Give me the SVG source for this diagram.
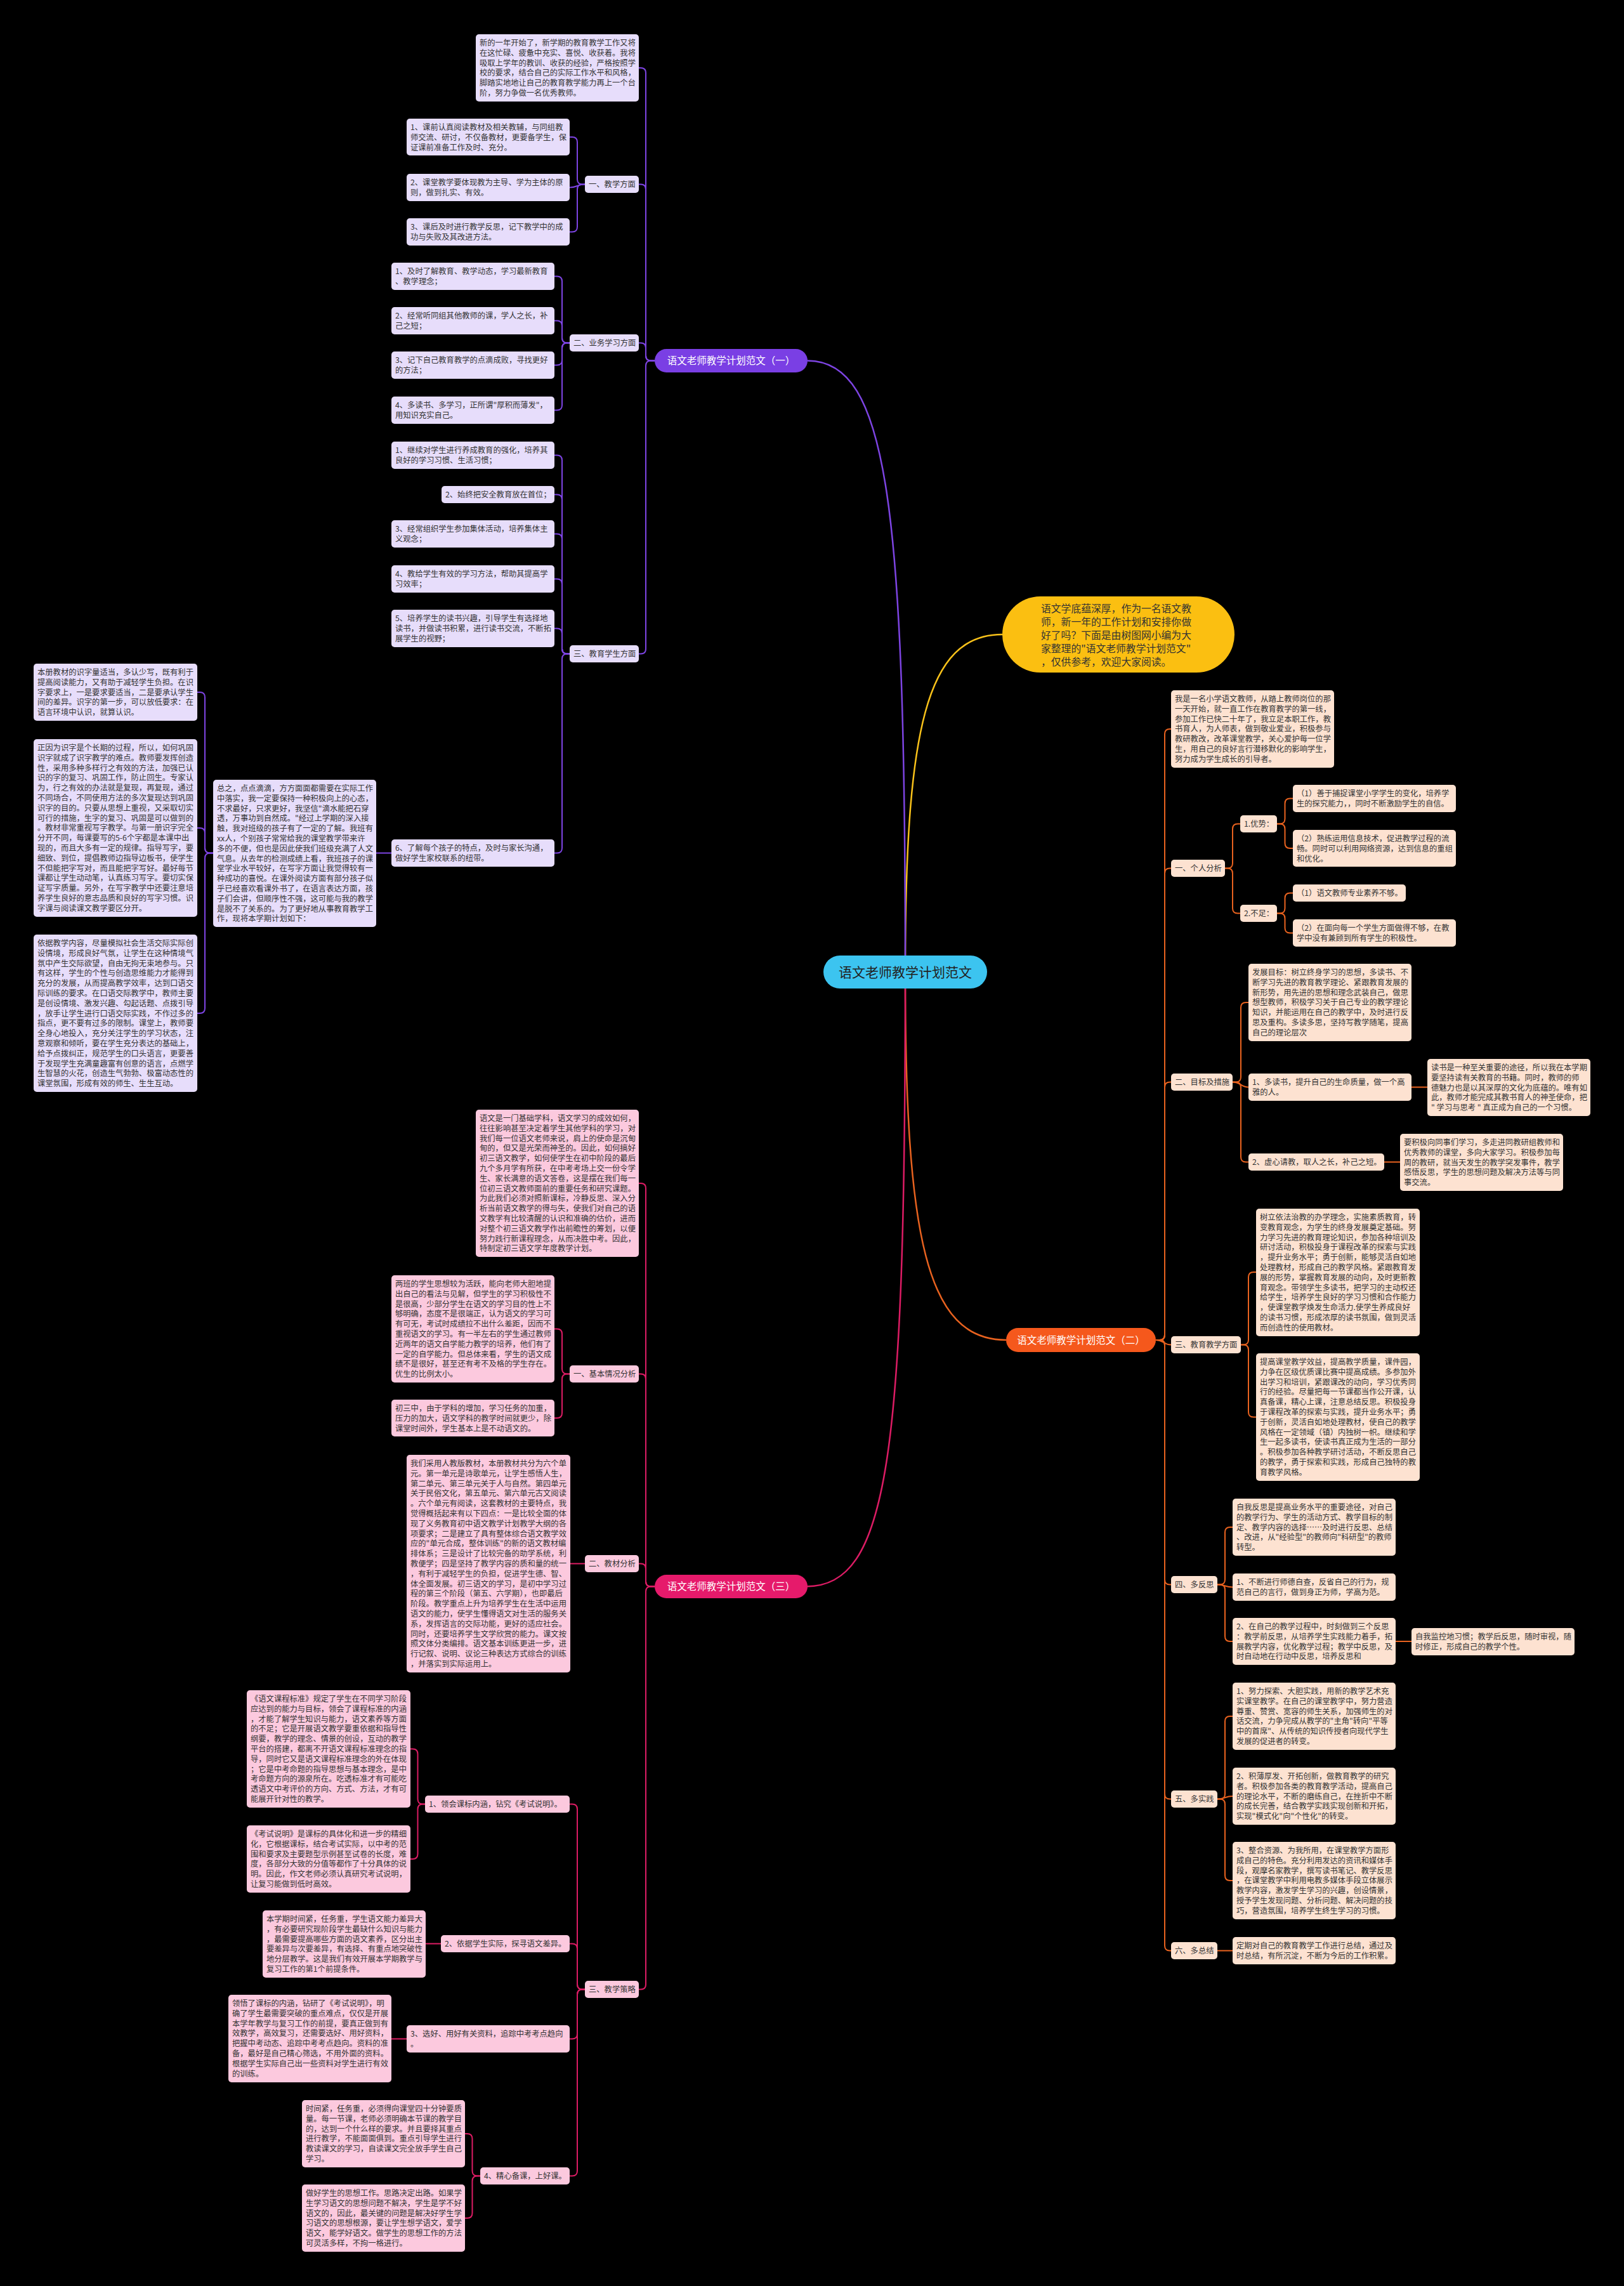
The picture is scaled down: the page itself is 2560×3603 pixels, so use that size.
<svg xmlns="http://www.w3.org/2000/svg" width="2560" height="3603" viewBox="0 0 2560 3603">
<style>
text{font-family:"Noto Sans CJK SC","Noto Sans",sans-serif;}
.t{font-size:12.3px;fill:#333;}
.h{font-size:15.5px;fill:#fff;text-anchor:middle;}
.np{fill:#e7ddfb}
.no{fill:#fde2d1}
.nk{fill:#fcc9de}
.lp{fill:none;stroke:#7d44e2;stroke-width:2}
.lo{fill:none;stroke:#e8621f;stroke-width:2}
.lk{fill:none;stroke:#dc1c64;stroke-width:2}
</style>
<rect x="0" y="0" width="2560" height="3603" fill="#000"/>
<g id="connectors">
<path d="M1427,1532 C1427,1150 1460,1000 1580,1000" fill="none" stroke="#f9c21a" stroke-width="2.5"/>
<path d="M1427,1532 C1427,800 1400,568.5 1273,568.5" fill="none" stroke="#7d44e2" stroke-width="2.5"/>
<path d="M1427,1532 C1427,1950 1460,2112 1586,2112" fill="none" stroke="#e8621f" stroke-width="2.5"/>
<path d="M1427,1532 C1427,2300 1400,2500.5 1271,2500.5" fill="none" stroke="#dc1c64" stroke-width="2.5"/>
<g class="lp">
<path d="M1032,568.5 H1026 Q1018,568.5 1018,560.5 V115 Q1018,107 1010,107 H1007"/>
<path d="M1032,568.5 H1026 Q1018,568.5 1018,560.5 V298.5 Q1018,290.5 1010,290.5 H1007"/>
<path d="M1032,568.5 H1026 Q1018,568.5 1018,560.5 V548.5 Q1018,540.5 1010,540.5 H1007"/>
<path d="M1032,568.5 H1026 Q1018,568.5 1018,576.5 V1022.5 Q1018,1030.5 1010,1030.5 H1007"/>
<path d="M922,290.5 H918 Q910,290.5 910,282.5 V224 Q910,216 902,216 H898"/>
<path d="M922,290.5 C910,290.5 910,295.5 898,295.5"/>
<path d="M922,290.5 H918 Q910,290.5 910,298.5 V357.5 Q910,365.5 902,365.5 H898"/>
<path d="M898,540.5 H894 Q886,540.5 886,532.5 V443.5 Q886,435.5 878,435.5 H874"/>
<path d="M898,540.5 H894 Q886,540.5 886,532.5 V513.5 Q886,505.5 878,505.5 H874"/>
<path d="M898,540.5 H894 Q886,540.5 886,548.5 V567.5 Q886,575.5 878,575.5 H874"/>
<path d="M898,540.5 H894 Q886,540.5 886,548.5 V638.5 Q886,646.5 878,646.5 H874"/>
<path d="M898,1030.5 H894 Q886,1030.5 886,1022.5 V725.5 Q886,717.5 878,717.5 H874"/>
<path d="M898,1030.5 H894 Q886,1030.5 886,1022.5 V787.5 Q886,779.5 878,779.5 H874"/>
<path d="M898,1030.5 H894 Q886,1030.5 886,1022.5 V849.5 Q886,841.5 878,841.5 H874"/>
<path d="M898,1030.5 H894 Q886,1030.5 886,1022.5 V920.5 Q886,912.5 878,912.5 H874"/>
<path d="M898,1030.5 H894 Q886,1030.5 886,1022.5 V998.5 Q886,990.5 878,990.5 H874"/>
<path d="M898,1030.5 H894 Q886,1030.5 886,1038.5 V1336.5 Q886,1344.5 878,1344.5 H874"/>
<path d="M617,1344.5 H593"/>
<path d="M336,1344.5 H331 Q323,1344.5 323,1336.5 V1099 Q323,1091 315,1091 H311"/>
<path d="M336,1344.5 H331 Q323,1344.5 323,1336.5 V1313 Q323,1305 315,1305 H311"/>
<path d="M336,1344.5 H331 Q323,1344.5 323,1352.5 V1589 Q323,1597 315,1597 H311"/>
</g>
<g class="lo">
<path d="M1822,2112 H1828 Q1836,2112 1836,2104 V1157 Q1836,1149 1844,1149 H1846"/>
<path d="M1822,2112 H1828 Q1836,2112 1836,2104 V1376.5 Q1836,1368.5 1844,1368.5 H1846"/>
<path d="M1822,2112 H1828 Q1836,2112 1836,2104 V1713.5 Q1836,1705.5 1844,1705.5 H1846"/>
<path d="M1822,2112 C1834,2112 1834,2119.5 1846,2119.5"/>
<path d="M1822,2112 H1828 Q1836,2112 1836,2120 V2489.5 Q1836,2497.5 1844,2497.5 H1846"/>
<path d="M1822,2112 H1828 Q1836,2112 1836,2120 V2827.5 Q1836,2835.5 1844,2835.5 H1846"/>
<path d="M1822,2112 H1828 Q1836,2112 1836,2120 V3066.5 Q1836,3074.5 1844,3074.5 H1846"/>
<path d="M1931,1368.5 H1935 Q1943,1368.5 1943,1360.5 V1306.5 Q1943,1298.5 1951,1298.5 H1955"/>
<path d="M1931,1368.5 H1935 Q1943,1368.5 1943,1376.5 V1431.5 Q1943,1439.5 1951,1439.5 H1955"/>
<path d="M2013,1298.5 H2017.5 Q2025.5,1298.5 2025.5,1290.5 V1266.5 Q2025.5,1258.5 2033.5,1258.5 H2038"/>
<path d="M2013,1298.5 H2017.5 Q2025.5,1298.5 2025.5,1306.5 V1329 Q2025.5,1337 2033.5,1337 H2038"/>
<path d="M2013,1439.5 H2017.5 Q2025.5,1439.5 2025.5,1431.5 V1415.5 Q2025.5,1407.5 2033.5,1407.5 H2038"/>
<path d="M2013,1439.5 H2017.5 Q2025.5,1439.5 2025.5,1447.5 V1462.5 Q2025.5,1470.5 2033.5,1470.5 H2038"/>
<path d="M1943,1705.5 H1948 Q1956,1705.5 1956,1697.5 V1588 Q1956,1580 1964,1580 H1968"/>
<path d="M1943,1705.5 C1956,1705.5 1956,1713.5 1968,1713.5"/>
<path d="M1943,1705.5 H1948 Q1956,1705.5 1956,1713.5 V1823.5 Q1956,1831.5 1964,1831.5 H1968"/>
<path d="M2225,1713.5 H2250"/>
<path d="M2182,1831.5 H2207"/>
<path d="M1956,2119.5 H1960 Q1968,2119.5 1968,2111.5 V2013 Q1968,2005 1976,2005 H1980"/>
<path d="M1956,2119.5 H1960 Q1968,2119.5 1968,2127.5 V2225.5 Q1968,2233.5 1976,2233.5 H1980"/>
<path d="M1919,2497.5 H1923 Q1931,2497.5 1931,2489.5 V2415 Q1931,2407 1939,2407 H1943"/>
<path d="M1919,2497.5 C1931,2497.5 1931,2501.5 1943,2501.5"/>
<path d="M1919,2497.5 H1923 Q1931,2497.5 1931,2505.5 V2579 Q1931,2587 1939,2587 H1943"/>
<path d="M2200,2587 H2225"/>
<path d="M1919,2835.5 H1923 Q1931,2835.5 1931,2827.5 V2713 Q1931,2705 1939,2705 H1943"/>
<path d="M1919,2835.5 C1931,2835.5 1931,2831 1943,2831"/>
<path d="M1919,2835.5 H1923 Q1931,2835.5 1931,2843.5 V2956 Q1931,2964 1939,2964 H1943"/>
<path d="M1919,3074.5 H1943"/>
</g>
<g class="lk">
<path d="M1032,2500.5 H1026 Q1018,2500.5 1018,2492.5 V1873 Q1018,1865 1010,1865 H1007"/>
<path d="M1032,2500.5 H1026 Q1018,2500.5 1018,2492.5 V2173.5 Q1018,2165.5 1010,2165.5 H1007"/>
<path d="M1032,2500.5 H1026 Q1018,2500.5 1018,2492.5 V2472.5 Q1018,2464.5 1010,2464.5 H1007"/>
<path d="M1032,2500.5 H1026 Q1018,2500.5 1018,2508.5 V3127.5 Q1018,3135.5 1010,3135.5 H1007"/>
<path d="M898,2165.5 H894 Q886,2165.5 886,2157.5 V2102.5 Q886,2094.5 878,2094.5 H874"/>
<path d="M898,2165.5 H894 Q886,2165.5 886,2173.5 V2227 Q886,2235 878,2235 H874"/>
<path d="M922,2464.5 H899"/>
<path d="M922,3135.5 H918 Q910,3135.5 910,3127.5 V2851.5 Q910,2843.5 902,2843.5 H898"/>
<path d="M922,3135.5 H918 Q910,3135.5 910,3127.5 V3071.5 Q910,3063.5 902,3063.5 H898"/>
<path d="M922,3135.5 H918 Q910,3135.5 910,3143.5 V3205.5 Q910,3213.5 902,3213.5 H898"/>
<path d="M922,3135.5 H918 Q910,3135.5 910,3143.5 V3421.5 Q910,3429.5 902,3429.5 H898"/>
<path d="M670,2843.5 H666.5 Q658.5,2843.5 658.5,2835.5 V2764.5 Q658.5,2756.5 650.5,2756.5 H647"/>
<path d="M670,2843.5 H666.5 Q658.5,2843.5 658.5,2851.5 V2922 Q658.5,2930 650.5,2930 H647"/>
<path d="M695,3063.5 H671"/>
<path d="M641,3213.5 H617"/>
<path d="M757,3429.5 H752.5 Q744.5,3429.5 744.5,3421.5 V3371 Q744.5,3363 736.5,3363 H733"/>
<path d="M757,3429.5 H752.5 Q744.5,3429.5 744.5,3437.5 V3488 Q744.5,3496 736.5,3496 H733"/>
</g>
</g>

<g id="center"><rect x="1298" y="1506" width="258" height="52" rx="26" fill="#3cc4f0"/><text x="1427" y="1540" font-size="21" fill="#222" text-anchor="middle">语文老师教学计划范文</text></g>

<g id="intro"><rect x="1580" y="940" width="366" height="120" rx="60" fill="#fbbf11"/>
<text x="1641" y="965" font-size="15.8" fill="#333"><tspan x="1641">语文学底蕴深厚，作为一名语文教</tspan><tspan x="1641" dy="21">师，新一年的工作计划和安排你做</tspan><tspan x="1641" dy="21">好了吗？下面是由树图网小编为大</tspan><tspan x="1641" dy="21">家整理的"语文老师教学计划范文"</tspan><tspan x="1641" dy="21">，仅供参考，欢迎大家阅读。</tspan></text></g>

<g id="b1"><rect x="1032" y="550" width="241" height="37" rx="18.5" fill="#7a3fe4"/><text class="h" x="1152.5" y="574">语文老师教学计划范文（一）</text></g>
<g id="b2"><rect x="1586" y="2093" width="236" height="38" rx="19" fill="#f5581c"/><text class="h" x="1704" y="2117.5">语文老师教学计划范文（二）</text></g>
<g id="b3"><rect x="1032" y="2482" width="241" height="37" rx="18.5" fill="#e61a6b"/><text class="h" x="1152.5" y="2506">语文老师教学计划范文（三）</text></g>

<g id="p-intro"><rect class="np" x="750" y="54" width="257" height="106" rx="5"/><text class="t" x="756" y="71.9"><tspan x="756">新的一年开始了，新学期的教育教学工作又将</tspan><tspan x="756" dy="15.8">在这忙碌、疲惫中充实、喜悦、收获着。我将</tspan><tspan x="756" dy="15.8">吸取上学年的教训、收获的经验，严格按照学</tspan><tspan x="756" dy="15.8">校的要求，结合自己的实际工作水平和风格，</tspan><tspan x="756" dy="15.8">脚踏实地地让自己的教育教学能力再上一个台</tspan><tspan x="756" dy="15.8">阶，努力争做一名优秀教师。</tspan></text></g>
<g id="p-h1"><rect class="np" x="922" y="277" width="85" height="27" rx="5"/><text class="t" x="928" y="294.9">一、教学方面</text></g>
<g id="p-h1-1"><rect class="np" x="641" y="187" width="257" height="58" rx="5"/><text class="t" x="647" y="204.9"><tspan x="647">1、课前认真阅读教材及相关教辅，与同组教</tspan><tspan x="647" dy="15.8">师交流、研讨，不仅备教材，更要备学生，保</tspan><tspan x="647" dy="15.8">证课前准备工作及时、充分。</tspan></text></g>
<g id="p-h1-2"><rect class="np" x="641" y="274" width="257" height="43" rx="5"/><text class="t" x="647" y="291.9"><tspan x="647">2、课堂教学要体现教为主导、学为主体的原</tspan><tspan x="647" dy="15.8">则，做到扎实、有效。</tspan></text></g>
<g id="p-h1-3"><rect class="np" x="641" y="344" width="257" height="43" rx="5"/><text class="t" x="647" y="361.9"><tspan x="647">3、课后及时进行教学反思，记下教学中的成</tspan><tspan x="647" dy="15.8">功与失败及其改进方法。</tspan></text></g>
<g id="p-h2"><rect class="np" x="898" y="527" width="109" height="27" rx="5"/><text class="t" x="904" y="544.9">二、业务学习方面</text></g>
<g id="p-h2-1"><rect class="np" x="617" y="414" width="257" height="43" rx="5"/><text class="t" x="623" y="431.9"><tspan x="623">1、及时了解教育、教学动态，学习最新教育</tspan><tspan x="623" dy="15.8">、教学理念；</tspan></text></g>
<g id="p-h2-2"><rect class="np" x="617" y="484" width="257" height="43" rx="5"/><text class="t" x="623" y="501.9"><tspan x="623">2、经常听同组其他教师的课，学人之长，补</tspan><tspan x="623" dy="15.8">己之短；</tspan></text></g>
<g id="p-h2-3"><rect class="np" x="617" y="554" width="257" height="43" rx="5"/><text class="t" x="623" y="571.9"><tspan x="623">3、记下自己教育教学的点滴成败，寻找更好</tspan><tspan x="623" dy="15.8">的方法；</tspan></text></g>
<g id="p-h2-4"><rect class="np" x="617" y="625" width="257" height="43" rx="5"/><text class="t" x="623" y="642.9"><tspan x="623">4、多读书、多学习，正所谓"厚积而薄发"，</tspan><tspan x="623" dy="15.8">用知识充实自己。</tspan></text></g>
<g id="p-h3"><rect class="np" x="898" y="1017" width="109" height="27" rx="5"/><text class="t" x="904" y="1034.9">三、教育学生方面</text></g>
<g id="p-h3-1"><rect class="np" x="617" y="696" width="257" height="43" rx="5"/><text class="t" x="623" y="713.9"><tspan x="623">1、继续对学生进行养成教育的强化，培养其</tspan><tspan x="623" dy="15.8">良好的学习习惯、生活习惯；</tspan></text></g>
<g id="p-h3-2"><rect class="np" x="696" y="766" width="178" height="27" rx="5"/><text class="t" x="702" y="783.9">2、始终把安全教育放在首位；</text></g>
<g id="p-h3-3"><rect class="np" x="617" y="820" width="257" height="43" rx="5"/><text class="t" x="623" y="837.9"><tspan x="623">3、经常组织学生参加集体活动，培养集体主</tspan><tspan x="623" dy="15.8">义观念；</tspan></text></g>
<g id="p-h3-4"><rect class="np" x="617" y="891" width="257" height="43" rx="5"/><text class="t" x="623" y="908.9"><tspan x="623">4、教给学生有效的学习方法，帮助其提高学</tspan><tspan x="623" dy="15.8">习效率；</tspan></text></g>
<g id="p-h3-5"><rect class="np" x="617" y="961" width="257" height="59" rx="5"/><text class="t" x="623" y="978.9"><tspan x="623">5、培养学生的读书兴趣，引导学生有选择地</tspan><tspan x="623" dy="15.8">读书，并做读书积累，进行读书交流，不断拓</tspan><tspan x="623" dy="15.8">展学生的视野；</tspan></text></g>
<g id="p-h3-6"><rect class="np" x="617" y="1323" width="257" height="43" rx="5"/><text class="t" x="623" y="1340.9"><tspan x="623">6、了解每个孩子的特点，及时与家长沟通，</tspan><tspan x="623" dy="15.8">做好学生家校联系的纽带。</tspan></text></g>
<g id="p-zz"><rect class="np" x="336" y="1229" width="257" height="232" rx="5"/><text class="t" x="342" y="1246.9"><tspan x="342">总之，点点滴滴，方方面面都需要在实际工作</tspan><tspan x="342" dy="15.8">中落实，我一定要保持一种积极向上的心态，</tspan><tspan x="342" dy="15.8">不求最好，只求更好，我坚信"滴水能把石穿</tspan><tspan x="342" dy="15.8">透，万事功到自然成。"经过上学期的深入接</tspan><tspan x="342" dy="15.8">触，我对班级的孩子有了一定的了解。我班有</tspan><tspan x="342" dy="15.8">xx人，个别孩子常常给我的课堂教学带来许</tspan><tspan x="342" dy="15.8">多的不便，但也是因此使我们班级充满了人文</tspan><tspan x="342" dy="15.8">气息。从去年的检测成绩上看，我班孩子的课</tspan><tspan x="342" dy="15.8">堂学业水平较好，在写字方面让我觉得较有一</tspan><tspan x="342" dy="15.8">种成功的喜悦。在课外阅读方面有部分孩子似</tspan><tspan x="342" dy="15.8">乎已经喜欢看课外书了，在语言表达方面，孩</tspan><tspan x="342" dy="15.8">子们会讲，但顺序性不强，这可能与我的教学</tspan><tspan x="342" dy="15.8">是脱不了关系的。为了更好地从事教育教学工</tspan><tspan x="342" dy="15.8">作，现将本学期计划如下：</tspan></text></g>
<g id="p-fa"><rect class="np" x="53" y="1046" width="258" height="90" rx="5"/><text class="t" x="59" y="1063.9"><tspan x="59">本册教材的识字量适当，多认少写，既有利于</tspan><tspan x="59" dy="15.8">提高阅读能力，又有助于减轻学生负担。在识</tspan><tspan x="59" dy="15.8">字要求上，一是要求要适当，二是要承认学生</tspan><tspan x="59" dy="15.8">间的差异。识字的第一步，可以放低要求：在</tspan><tspan x="59" dy="15.8">语言环境中认识，就算认识。</tspan></text></g>
<g id="p-fb"><rect class="np" x="53" y="1165" width="258" height="280" rx="5"/><text class="t" x="59" y="1182.9"><tspan x="59">正因为识字是个长期的过程，所以，如何巩固</tspan><tspan x="59" dy="15.8">识字就成了识字教学的难点。教师要发挥创造</tspan><tspan x="59" dy="15.8">性，采用多种多样行之有效的方法，加强已认</tspan><tspan x="59" dy="15.8">识的字的复习、巩固工作，防止回生。专家认</tspan><tspan x="59" dy="15.8">为，行之有效的办法就是复现，再复现，通过</tspan><tspan x="59" dy="15.8">不同场合，不同使用方法的多次复现达到巩固</tspan><tspan x="59" dy="15.8">识字的目的。只要从思想上重视，又采取切实</tspan><tspan x="59" dy="15.8">可行的措施，生字的复习、巩固是可以做到的</tspan><tspan x="59" dy="15.8">。教材非常重视写字教学。与第一册识字完全</tspan><tspan x="59" dy="15.8">分开不同，每课要写的5-6个字都是本课中出</tspan><tspan x="59" dy="15.8">现的，而且大多有一定的规律。指导写字，要</tspan><tspan x="59" dy="15.8">细致、到位，提倡教师边指导边板书，使学生</tspan><tspan x="59" dy="15.8">不但能把字写对，而且能把字写好。最好每节</tspan><tspan x="59" dy="15.8">课都让学生动动笔，认真练习写字。要切实保</tspan><tspan x="59" dy="15.8">证写字质量。另外，在写字教学中还要注意培</tspan><tspan x="59" dy="15.8">养学生良好的意志品质和良好的写字习惯。识</tspan><tspan x="59" dy="15.8">字课与阅读课文教学要区分开。</tspan></text></g>
<g id="p-fc"><rect class="np" x="53" y="1473" width="258" height="248" rx="5"/><text class="t" x="59" y="1490.9"><tspan x="59">依据教学内容，尽量模拟社会生活交际实际创</tspan><tspan x="59" dy="15.8">设情境，形成良好气氛，让学生在这种情境气</tspan><tspan x="59" dy="15.8">氛中产生交际欲望，自由无拘无束地参与。只</tspan><tspan x="59" dy="15.8">有这样，学生的个性与创造思维能力才能得到</tspan><tspan x="59" dy="15.8">充分的发展，从而提高教学效率，达到口语交</tspan><tspan x="59" dy="15.8">际训练的要求。在口语交际教学中，教师主要</tspan><tspan x="59" dy="15.8">是创设情境、激发兴趣、勾起话题、点拨引导</tspan><tspan x="59" dy="15.8">，放手让学生进行口语交际实践，不作过多的</tspan><tspan x="59" dy="15.8">指点，更不要有过多的限制。课堂上，教师要</tspan><tspan x="59" dy="15.8">全身心地投入，充分关注学生的学习状态，注</tspan><tspan x="59" dy="15.8">意观察和倾听，要在学生充分表达的基础上，</tspan><tspan x="59" dy="15.8">给予点拨纠正，规范学生的口头语言，更要善</tspan><tspan x="59" dy="15.8">于发现学生充满童趣富有创意的语言，点燃学</tspan><tspan x="59" dy="15.8">生智慧的火花，创造生气勃勃、极富动态性的</tspan><tspan x="59" dy="15.8">课堂氛围，形成有效的师生、生生互动。</tspan></text></g>

<g id="o-intro"><rect class="no" x="1846" y="1088" width="257" height="122" rx="5"/><text class="t" x="1852" y="1105.9"><tspan x="1852">我是一名小学语文教师，从踏上教师岗位的那</tspan><tspan x="1852" dy="15.8">一天开始，就一直工作在教育教学的第一线，</tspan><tspan x="1852" dy="15.8">参加工作已快二十年了，我立足本职工作，教</tspan><tspan x="1852" dy="15.8">书育人，为人师表，做到敬业爱业，积极参与</tspan><tspan x="1852" dy="15.8">教研教改，改革课堂教学，关心爱护每一位学</tspan><tspan x="1852" dy="15.8">生，用自己的良好言行潜移默化的影响学生，</tspan><tspan x="1852" dy="15.8">努力成为学生成长的引导者。</tspan></text></g>
<g id="o-h1"><rect class="no" x="1846" y="1355" width="85" height="27" rx="5"/><text class="t" x="1852" y="1372.9">一、个人分析</text></g>
<g id="o-h1a"><rect class="no" x="1955" y="1285" width="58" height="27" rx="5"/><text class="t" x="1961" y="1302.9">1.优势：</text></g>
<g id="o-h1b"><rect class="no" x="1955" y="1426" width="58" height="27" rx="5"/><text class="t" x="1961" y="1443.9">2.不足：</text></g>
<g id="o-h1a1"><rect class="no" x="2038" y="1237" width="257" height="43" rx="5"/><text class="t" x="2044" y="1254.9"><tspan x="2044">（1）善于捕捉课堂小学学生的变化，培养学</tspan><tspan x="2044" dy="15.8">生的探究能力，，同时不断激励学生的自信。</tspan></text></g>
<g id="o-h1a2"><rect class="no" x="2038" y="1308" width="257" height="58" rx="5"/><text class="t" x="2044" y="1325.9"><tspan x="2044">（2）熟练运用信息技术，促进教学过程的流</tspan><tspan x="2044" dy="15.8">畅。同时可以利用网络资源，达到信息的重组</tspan><tspan x="2044" dy="15.8">和优化。</tspan></text></g>
<g id="o-h1b1"><rect class="no" x="2038" y="1394" width="178" height="27" rx="5"/><text class="t" x="2044" y="1411.9">（1）语文教师专业素养不够。</text></g>
<g id="o-h1b2"><rect class="no" x="2038" y="1449" width="257" height="43" rx="5"/><text class="t" x="2044" y="1466.9"><tspan x="2044">（2）在面向每一个学生方面做得不够，在教</tspan><tspan x="2044" dy="15.8">学中没有兼顾到所有学生的积极性。</tspan></text></g>
<g id="o-h2"><rect class="no" x="1846" y="1692" width="97" height="27" rx="5"/><text class="t" x="1852" y="1709.9">二、目标及措施</text></g>
<g id="o-h2a"><rect class="no" x="1968" y="1519" width="257" height="122" rx="5"/><text class="t" x="1974" y="1536.9"><tspan x="1974">发展目标：树立终身学习的思想，多读书、不</tspan><tspan x="1974" dy="15.8">断学习先进的教育教学理论、紧跟教育发展的</tspan><tspan x="1974" dy="15.8">新形势，用先进的思想和理念武装自己，做思</tspan><tspan x="1974" dy="15.8">想型教师，积极学习关于自己专业的教学理论</tspan><tspan x="1974" dy="15.8">知识，并能运用在自己的教学中，及时进行反</tspan><tspan x="1974" dy="15.8">思及重构。多读多思，坚持写教学随笔，提高</tspan><tspan x="1974" dy="15.8">自己的理论层次</tspan></text></g>
<g id="o-h2b"><rect class="no" x="1968" y="1692" width="257" height="43" rx="5"/><text class="t" x="1974" y="1709.9"><tspan x="1974">1、多读书，提升自己的生命质量，做一个高</tspan><tspan x="1974" dy="15.8">雅的人。</tspan></text></g>
<g id="o-h2b1"><rect class="no" x="2250" y="1669" width="257" height="90" rx="5"/><text class="t" x="2256" y="1686.9"><tspan x="2256">读书是一种至关重要的途径，所以我在本学期</tspan><tspan x="2256" dy="15.8">要坚持读有关教育的书籍。同时，教师的师</tspan><tspan x="2256" dy="15.8">德魅力也是以其深厚的文化为底蕴的。唯有如</tspan><tspan x="2256" dy="15.8">此，教师才能完成其教书育人的神圣使命，把</tspan><tspan x="2256" dy="15.8">" 学习与思考 " 真正成为自己的一个习惯。</tspan></text></g>
<g id="o-h2c"><rect class="no" x="1968" y="1818" width="214" height="27" rx="5"/><text class="t" x="1974" y="1835.9">2、虚心请教，取人之长，补己之短。</text></g>
<g id="o-h2c1"><rect class="no" x="2207" y="1787" width="257" height="90" rx="5"/><text class="t" x="2213" y="1804.9"><tspan x="2213">要积极向同事们学习，多走进同教研组教师和</tspan><tspan x="2213" dy="15.8">优秀教师的课堂，多向大家学习。积极参加每</tspan><tspan x="2213" dy="15.8">周的教研，就当天发生的教学突发事件，教学</tspan><tspan x="2213" dy="15.8">感悟反思，学生的思想问题及解决方法等与同</tspan><tspan x="2213" dy="15.8">事交流。</tspan></text></g>
<g id="o-h3"><rect class="no" x="1846" y="2106" width="110" height="27" rx="5"/><text class="t" x="1852" y="2123.9">三、教育教学方面</text></g>
<g id="o-h3a"><rect class="no" x="1980" y="1905" width="258" height="201" rx="5"/><text class="t" x="1986" y="1922.9"><tspan x="1986">树立依法治教的办学理念，实施素质教育，转</tspan><tspan x="1986" dy="15.8">变教育观念，为学生的终身发展奠定基础。努</tspan><tspan x="1986" dy="15.8">力学习先进的教育理论知识，参加各种培训及</tspan><tspan x="1986" dy="15.8">研讨活动，积极投身于课程改革的探索与实践</tspan><tspan x="1986" dy="15.8">，提升业务水平；勇于创新，能够灵活自如地</tspan><tspan x="1986" dy="15.8">处理教材，形成自己的教学风格。紧跟教育发</tspan><tspan x="1986" dy="15.8">展的形势，掌握教育发展的动向，及时更新教</tspan><tspan x="1986" dy="15.8">育观念。带领学生多读书，把学习的主动权还</tspan><tspan x="1986" dy="15.8">给学生，培养学生良好的学习习惯和合作能力</tspan><tspan x="1986" dy="15.8">，使课堂教学焕发生命活力.使学生养成良好</tspan><tspan x="1986" dy="15.8">的读书习惯，形成浓厚的读书氛围，做到灵活</tspan><tspan x="1986" dy="15.8">而创造性的使用教材。</tspan></text></g>
<g id="o-h3b"><rect class="no" x="1980" y="2133" width="258" height="201" rx="5"/><text class="t" x="1986" y="2150.9"><tspan x="1986">提高课堂教学效益，提高教学质量，课件园，</tspan><tspan x="1986" dy="15.8">力争在区级优质课比赛中提高成绩。多参加外</tspan><tspan x="1986" dy="15.8">出学习和培训，紧跟课改的动向，学习优秀同</tspan><tspan x="1986" dy="15.8">行的经验。尽量把每一节课都当作公开课，认</tspan><tspan x="1986" dy="15.8">真备课，精心上课，注意总结反思。积极投身</tspan><tspan x="1986" dy="15.8">于课程改革的探索与实践，提升业务水平；勇</tspan><tspan x="1986" dy="15.8">于创新，灵活自如地处理教材，使自己的教学</tspan><tspan x="1986" dy="15.8">风格在一定领域（镇）内独树一帜。继续和学</tspan><tspan x="1986" dy="15.8">生一起多读书，使读书真正成为生活的一部分</tspan><tspan x="1986" dy="15.8">。积极参加各种教学研讨活动，不断反思自己</tspan><tspan x="1986" dy="15.8">的教学，勇于探索和实践，形成自己独特的教</tspan><tspan x="1986" dy="15.8">育教学风格。</tspan></text></g>
<g id="o-h4"><rect class="no" x="1846" y="2484" width="73" height="27" rx="5"/><text class="t" x="1852" y="2501.9">四、多反思</text></g>
<g id="o-h4a"><rect class="no" x="1943" y="2362" width="257" height="90" rx="5"/><text class="t" x="1949" y="2379.9"><tspan x="1949">自我反思是提高业务水平的重要途径，对自己</tspan><tspan x="1949" dy="15.8">的教学行为、学生的活动方式、教学目标的制</tspan><tspan x="1949" dy="15.8">定、教学内容的选择……及时进行反思、总结</tspan><tspan x="1949" dy="15.8">、改进，从"经验型"的教师向"科研型"的教师</tspan><tspan x="1949" dy="15.8">转型。</tspan></text></g>
<g id="o-h4b"><rect class="no" x="1943" y="2480" width="257" height="43" rx="5"/><text class="t" x="1949" y="2497.9"><tspan x="1949">1、不断进行师德自查，反省自己的行为，规</tspan><tspan x="1949" dy="15.8">范自己的言行，做到身正为师，学高为范。</tspan></text></g>
<g id="o-h4c"><rect class="no" x="1943" y="2550" width="257" height="74" rx="5"/><text class="t" x="1949" y="2567.9"><tspan x="1949">2、在自己的教学过程中，时刻做到三个反思</tspan><tspan x="1949" dy="15.8">：教学前反思，从培养学生实践能力着手，拓</tspan><tspan x="1949" dy="15.8">展教学内容，优化教学过程；教学中反思，及</tspan><tspan x="1949" dy="15.8">时自动地在行动中反思，培养反思和</tspan></text></g>
<g id="o-h4c1"><rect class="no" x="2225" y="2566" width="257" height="43" rx="5"/><text class="t" x="2231" y="2583.9"><tspan x="2231">自我监控地习惯；教学后反思，随时审视，随</tspan><tspan x="2231" dy="15.8">时修正，形成自己的教学个性。</tspan></text></g>
<g id="o-h5"><rect class="no" x="1846" y="2822" width="73" height="27" rx="5"/><text class="t" x="1852" y="2839.9">五、多实践</text></g>
<g id="o-h5a"><rect class="no" x="1943" y="2652" width="257" height="106" rx="5"/><text class="t" x="1949" y="2669.9"><tspan x="1949">1、努力探索、大胆实践，用新的教学艺术充</tspan><tspan x="1949" dy="15.8">实课堂教学。在自己的课堂教学中，努力营造</tspan><tspan x="1949" dy="15.8">尊重、赞赏、宽容的师生关系，加强师生的对</tspan><tspan x="1949" dy="15.8">话交流，力争完成从教学的"主角"转向"平等</tspan><tspan x="1949" dy="15.8">中的首席"、从传统的知识传授者向现代学生</tspan><tspan x="1949" dy="15.8">发展的促进者的转变。</tspan></text></g>
<g id="o-h5b"><rect class="no" x="1943" y="2786" width="257" height="90" rx="5"/><text class="t" x="1949" y="2803.9"><tspan x="1949">2、积薄厚发、开拓创新，做教育教学的研究</tspan><tspan x="1949" dy="15.8">者。积极参加各类的教育教学活动，提高自己</tspan><tspan x="1949" dy="15.8">的理论水平，不断的磨练自己，在挫折中不断</tspan><tspan x="1949" dy="15.8">的成长完善，结合教学实践实现创新和开拓，</tspan><tspan x="1949" dy="15.8">实现"模式化"向"个性化"的转变。</tspan></text></g>
<g id="o-h5c"><rect class="no" x="1943" y="2903" width="257" height="122" rx="5"/><text class="t" x="1949" y="2920.9"><tspan x="1949">3、整合资源、为我所用，在课堂教学方面形</tspan><tspan x="1949" dy="15.8">成自己的特色。充分利用发达的资讯和媒体手</tspan><tspan x="1949" dy="15.8">段，观摩名家教学，撰写读书笔记、教学反思</tspan><tspan x="1949" dy="15.8">，在课堂教学中利用电教多媒体手段立体展示</tspan><tspan x="1949" dy="15.8">教学内容，激发学生学习的兴趣，创设情景，</tspan><tspan x="1949" dy="15.8">授予学生发现问题、分析问题、解决问题的技</tspan><tspan x="1949" dy="15.8">巧，营造氛围，培养学生终生学习的习惯。</tspan></text></g>
<g id="o-h6"><rect class="no" x="1846" y="3061" width="73" height="27" rx="5"/><text class="t" x="1852" y="3078.9">六、多总结</text></g>
<g id="o-h6a"><rect class="no" x="1943" y="3053" width="257" height="43" rx="5"/><text class="t" x="1949" y="3070.9"><tspan x="1949">定期对自己的教育教学工作进行总结，通过及</tspan><tspan x="1949" dy="15.8">时总结，有所沉淀，不断为今后的工作积累。</tspan></text></g>

<g id="k-intro"><rect class="nk" x="750" y="1749" width="257" height="232" rx="5"/><text class="t" x="756" y="1766.9"><tspan x="756">语文是一门基础学科，语文学习的成效如何，</tspan><tspan x="756" dy="15.8">往往影响甚至决定着学生其他学科的学习，对</tspan><tspan x="756" dy="15.8">我们每一位语文老师来说，肩上的使命是沉甸</tspan><tspan x="756" dy="15.8">甸的，但又是光荣而神圣的。因此，如何搞好</tspan><tspan x="756" dy="15.8">初三语文教学，如何使学生在初中阶段的最后</tspan><tspan x="756" dy="15.8">九个多月学有所获，在中考考场上交一份令学</tspan><tspan x="756" dy="15.8">生、家长满意的语文答卷，这是摆在我们每一</tspan><tspan x="756" dy="15.8">位初三语文教师面前的重要任务和研究课题。</tspan><tspan x="756" dy="15.8">为此我们必须对照新课标，冷静反思、深入分</tspan><tspan x="756" dy="15.8">析当前语文教学的得与失，使我们对自己的语</tspan><tspan x="756" dy="15.8">文教学有比较清醒的认识和准确的估价，进而</tspan><tspan x="756" dy="15.8">对整个初三语文教学作出前瞻性的筹划，以便</tspan><tspan x="756" dy="15.8">努力践行新课程理念，从而决胜中考。因此，</tspan><tspan x="756" dy="15.8">特制定初三语文学年度教学计划。</tspan></text></g>
<g id="k-h1"><rect class="nk" x="898" y="2152" width="109" height="27" rx="5"/><text class="t" x="904" y="2169.9">一、基本情况分析</text></g>
<g id="k-h1a"><rect class="nk" x="617" y="2010" width="257" height="169" rx="5"/><text class="t" x="623" y="2027.9"><tspan x="623">两班的学生思想较为活跃，能向老师大胆地提</tspan><tspan x="623" dy="15.8">出自己的看法与见解，但学生的学习积极性不</tspan><tspan x="623" dy="15.8">是很高，少部分学生在语文的学习目的性上不</tspan><tspan x="623" dy="15.8">够明确，态度不是很端正，认为语文的学习可</tspan><tspan x="623" dy="15.8">有可无，考试时成绩拉不出什么差距，因而不</tspan><tspan x="623" dy="15.8">重视语文的学习。有一半左右的学生通过教师</tspan><tspan x="623" dy="15.8">近两年的语文自学能力教学的培养，他们有了</tspan><tspan x="623" dy="15.8">一定的自学能力。但总体来看，学生的语文成</tspan><tspan x="623" dy="15.8">绩不是很好，甚至还有考不及格的学生存在。</tspan><tspan x="623" dy="15.8">优生的比例太小。</tspan></text></g>
<g id="k-h1b"><rect class="nk" x="617" y="2206" width="257" height="58" rx="5"/><text class="t" x="623" y="2223.9"><tspan x="623">初三中，由于学科的增加，学习任务的加重，</tspan><tspan x="623" dy="15.8">压力的加大，语文学科的教学时间就更少，除</tspan><tspan x="623" dy="15.8">课堂时间外，学生基本上是不动语文的。</tspan></text></g>
<g id="k-h2"><rect class="nk" x="922" y="2451" width="85" height="27" rx="5"/><text class="t" x="928" y="2468.9">二、教材分析</text></g>
<g id="k-h2a"><rect class="nk" x="641" y="2293" width="258" height="343" rx="5"/><text class="t" x="647" y="2310.9"><tspan x="647">我们采用人教版教材，本册教材共分为六个单</tspan><tspan x="647" dy="15.8">元。第一单元是诗歌单元，让学生感悟人生，</tspan><tspan x="647" dy="15.8">第二单元、第三单元关于人与自然。第四单元</tspan><tspan x="647" dy="15.8">关于民俗文化，第五单元、第六单元古文阅读</tspan><tspan x="647" dy="15.8">。六个单元有阅读，这套教材的主要特点，我</tspan><tspan x="647" dy="15.8">觉得概括起来有以下四点：一是比较全面的体</tspan><tspan x="647" dy="15.8">现了义务教育初中语文教学计划教学大纲的各</tspan><tspan x="647" dy="15.8">项要求；二是建立了具有整体综合语文教学效</tspan><tspan x="647" dy="15.8">应的"单元合成，整体训练"的新的语文教材编</tspan><tspan x="647" dy="15.8">排体系；三是设计了比较完备的助学系统，利</tspan><tspan x="647" dy="15.8">教便学；四是坚持了教学内容的质和量的统一</tspan><tspan x="647" dy="15.8">，有利于减轻学生的负担，促进学生德、智、</tspan><tspan x="647" dy="15.8">体全面发展。初三语文的学习，是初中学习过</tspan><tspan x="647" dy="15.8">程的第三个阶段（第五、六学期），也即最后</tspan><tspan x="647" dy="15.8">阶段。教学重点上升为培养学生在生活中运用</tspan><tspan x="647" dy="15.8">语文的能力，使学生懂得语文对生活的服务关</tspan><tspan x="647" dy="15.8">系，发挥语言的交际功能，更好的适应社会。</tspan><tspan x="647" dy="15.8">同时，还要培养学生文学欣赏的能力。课文按</tspan><tspan x="647" dy="15.8">照文体分类编排。语文基本训练更进一步，进</tspan><tspan x="647" dy="15.8">行记叙、说明、议论三种表达方式综合的训练</tspan><tspan x="647" dy="15.8">，并落实到实际运用上。</tspan></text></g>
<g id="k-h3"><rect class="nk" x="922" y="3122" width="85" height="27" rx="5"/><text class="t" x="928" y="3139.9">三、教学策略</text></g>
<g id="k-h3a"><rect class="nk" x="670" y="2830" width="228" height="27" rx="5"/><text class="t" x="676" y="2847.9">1、领会课标内涵，钻究《考试说明》。</text></g>
<g id="k-h3a1"><rect class="nk" x="389" y="2664" width="258" height="185" rx="5"/><text class="t" x="395" y="2681.9"><tspan x="395">《语文课程标准》规定了学生在不同学习阶段</tspan><tspan x="395" dy="15.8">应达到的能力与目标，领会了课程标准的内涵</tspan><tspan x="395" dy="15.8">，才能了解学生知识与能力，语文素养等方面</tspan><tspan x="395" dy="15.8">的不足；它是开展语文教学要重依据和指导性</tspan><tspan x="395" dy="15.8">纲要，教学的理念、情景的创设，互动的教学</tspan><tspan x="395" dy="15.8">平台的搭建，都离不开语文课程标准理念的指</tspan><tspan x="395" dy="15.8">导，同时它又是语文课程标准理念的外在体现</tspan><tspan x="395" dy="15.8">；它是中考命题的指导思想与基本理念，是中</tspan><tspan x="395" dy="15.8">考命题方向的源泉所在。吃透标准才有可能吃</tspan><tspan x="395" dy="15.8">透语文中考评价的方向、方式、方法，才有可</tspan><tspan x="395" dy="15.8">能展开针对性的教学。</tspan></text></g>
<g id="k-h3a2"><rect class="nk" x="389" y="2877" width="258" height="106" rx="5"/><text class="t" x="395" y="2894.9"><tspan x="395">《考试说明》是课标的具体化和进一步的精细</tspan><tspan x="395" dy="15.8">化，它根据课标，结合考试实际，以中考的范</tspan><tspan x="395" dy="15.8">围和要求及主要题型示例甚至试卷的长度，难</tspan><tspan x="395" dy="15.8">度，各部分大致的分值等都作了十分具体的说</tspan><tspan x="395" dy="15.8">明。因此，作文老师必须认真研究考试说明，</tspan><tspan x="395" dy="15.8">让复习能做到低时高效。</tspan></text></g>
<g id="k-h3b"><rect class="nk" x="695" y="3050" width="203" height="27" rx="5"/><text class="t" x="701" y="3067.9">2、依据学生实际，探寻语文差异。</text></g>
<g id="k-h3b1"><rect class="nk" x="414" y="3011" width="257" height="106" rx="5"/><text class="t" x="420" y="3028.9"><tspan x="420">本学期时间紧，任务重，学生语文能力差异大</tspan><tspan x="420" dy="15.8">，有必要研究现阶段学生最缺什么知识与能力</tspan><tspan x="420" dy="15.8">，最需要提高哪些方面的语文素养，区分出主</tspan><tspan x="420" dy="15.8">要差异与次要差异，有选择、有重点地突破性</tspan><tspan x="420" dy="15.8">地分层教学。这是我们有效开展本学期教学与</tspan><tspan x="420" dy="15.8">复习工作的第1个前提条件。</tspan></text></g>
<g id="k-h3c"><rect class="nk" x="641" y="3192" width="257" height="43" rx="5"/><text class="t" x="647" y="3209.9"><tspan x="647">3、选好、用好有关资料，追踪中考考点趋向</tspan><tspan x="647" dy="15.8">。</tspan></text></g>
<g id="k-h3c1"><rect class="nk" x="360" y="3144" width="257" height="138" rx="5"/><text class="t" x="366" y="3161.9"><tspan x="366">领悟了课标的内涵，钻研了《考试说明》，明</tspan><tspan x="366" dy="15.8">确了学生最需要突破的重点难点，仅仅是开展</tspan><tspan x="366" dy="15.8">本学年教学与复习工作的前提，要真正做到有</tspan><tspan x="366" dy="15.8">效教学，高效复习，还需要选好、用好资料，</tspan><tspan x="366" dy="15.8">把握中考动态、追踪中考考点趋向。资料的准</tspan><tspan x="366" dy="15.8">备，最好是自己精心筛选，不用外面的资料。</tspan><tspan x="366" dy="15.8">根据学生实际自己出一些资料对学生进行有效</tspan><tspan x="366" dy="15.8">的训练。</tspan></text></g>
<g id="k-h3d"><rect class="nk" x="757" y="3416" width="141" height="27" rx="5"/><text class="t" x="763" y="3433.9">4、精心备课，上好课。</text></g>
<g id="k-h3d1"><rect class="nk" x="476" y="3310" width="257" height="106" rx="5"/><text class="t" x="482" y="3327.9"><tspan x="482">时间紧，任务重，必须得向课堂四十分钟要质</tspan><tspan x="482" dy="15.8">量。每一节课，老师必须明确本节课的教学目</tspan><tspan x="482" dy="15.8">的，达到一个什么样的要求。并且要择其重点</tspan><tspan x="482" dy="15.8">进行教学，不能面面俱到。重点引导学生进行</tspan><tspan x="482" dy="15.8">教读课文的学习，自读课文完全放手学生自己</tspan><tspan x="482" dy="15.8">学习。</tspan></text></g>
<g id="k-h3d2"><rect class="nk" x="476" y="3443" width="257" height="106" rx="5"/><text class="t" x="482" y="3460.9"><tspan x="482">做好学生的思想工作。思路决定出路。如果学</tspan><tspan x="482" dy="15.8">生学习语文的思想问题不解决，学生是学不好</tspan><tspan x="482" dy="15.8">语文的，因此，最关键的问题是解决好学生学</tspan><tspan x="482" dy="15.8">习语文的思想根源，要让学生想学语文，爱学</tspan><tspan x="482" dy="15.8">语文，能学好语文。做学生的思想工作的方法</tspan><tspan x="482" dy="15.8">可灵活多样，不拘一格进行。</tspan></text></g>
</svg>
